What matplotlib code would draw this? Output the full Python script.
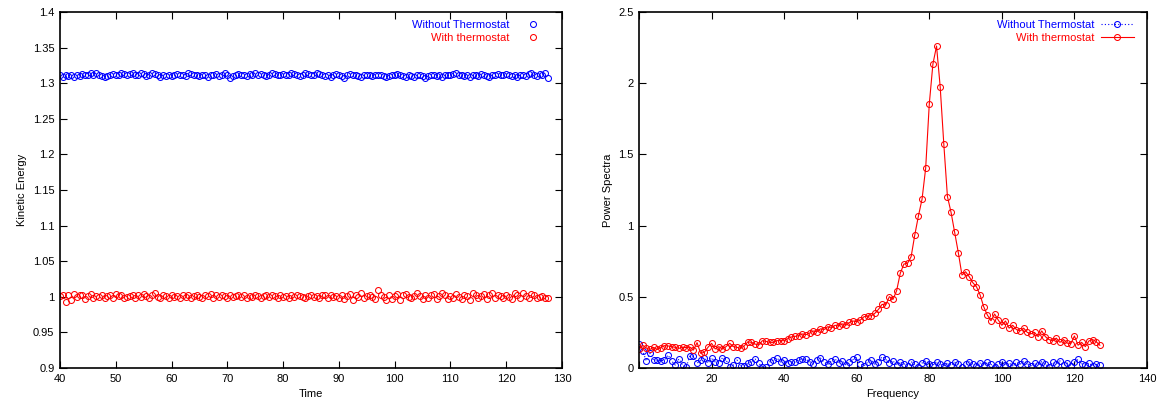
import numpy as np
import matplotlib.pyplot as plt
from matplotlib.ticker import FuncFormatter

plt.rcParams['font.family'] = ['Liberation Sans', 'DejaVu Sans']

# Kinetic energy, sampled every 0.5 time units from t = 40
time = np.arange(40, 128, 0.5)

ke_without = [
    1.311, 1.309, 1.311, 1.310, 1.312, 1.309, 1.311, 1.310, 1.313, 1.311, 1.312, 1.314, 1.311, 1.314, 1.312, 1.310,
    1.309, 1.310, 1.312, 1.313, 1.311, 1.312, 1.314, 1.313, 1.312, 1.313, 1.315, 1.312, 1.311, 1.314, 1.313, 1.310,
    1.312, 1.314, 1.313, 1.311, 1.309, 1.312, 1.310, 1.311, 1.310, 1.311, 1.313, 1.312, 1.311, 1.310, 1.315, 1.313,
    1.312, 1.311, 1.310, 1.312, 1.311, 1.309, 1.311, 1.312, 1.313, 1.310, 1.311, 1.314, 1.312, 1.308, 1.310, 1.312,
    1.313, 1.312, 1.311, 1.310, 1.313, 1.311, 1.314, 1.312, 1.313, 1.311, 1.310, 1.312, 1.314, 1.313, 1.312, 1.311,
    1.313, 1.312, 1.311, 1.314, 1.313, 1.311, 1.310, 1.312, 1.315, 1.313, 1.311, 1.312, 1.314, 1.313, 1.312, 1.310,
    1.311, 1.309, 1.312, 1.313, 1.311, 1.310, 1.308, 1.311, 1.313, 1.312, 1.311, 1.310, 1.309, 1.311, 1.312, 1.311,
    1.310, 1.311, 1.312, 1.311, 1.310, 1.309, 1.310, 1.311, 1.312, 1.313, 1.311, 1.310, 1.309, 1.311, 1.310, 1.309,
    1.311, 1.312, 1.310, 1.308, 1.310, 1.311, 1.312, 1.310, 1.311, 1.309, 1.312, 1.311, 1.312, 1.313, 1.314, 1.311,
    1.312, 1.310, 1.311, 1.309, 1.311, 1.312, 1.310, 1.313, 1.311, 1.310, 1.309, 1.311, 1.312, 1.313, 1.312, 1.311,
    1.313, 1.312, 1.310, 1.311, 1.309, 1.311, 1.312, 1.310, 1.313, 1.314, 1.312, 1.310, 1.313, 1.311, 1.314, 1.308,
]

ke_with = [
    1.001, 1.002, 0.992, 1.003, 0.995, 1.004, 1.000, 1.002, 1.003, 0.997, 1.001, 1.004, 0.999, 1.001, 1.000, 1.003,
    0.998, 1.001, 1.003, 0.999, 1.004, 1.001, 1.002, 0.998, 1.000, 1.001, 1.003, 0.999, 1.002, 1.000, 1.004, 1.001,
    0.999, 1.002, 1.005, 1.000, 0.998, 1.003, 1.001, 0.999, 1.002, 1.000, 1.001, 0.999, 1.003, 1.000, 1.002, 0.998,
    1.001, 1.003, 1.000, 0.999, 1.002, 1.001, 1.004, 0.999, 1.002, 1.000, 1.003, 1.001, 0.999, 1.002, 1.000, 1.001,
    1.003, 1.000, 1.002, 0.999, 1.001, 1.000, 1.002, 1.001, 0.999, 1.001, 1.003, 1.000, 1.002, 1.001, 0.999, 1.002,
    1.000, 1.001, 0.999, 1.002, 1.000, 1.003, 1.001, 1.000, 0.998, 1.001, 1.002, 1.000, 1.001, 0.999, 1.002, 1.003,
    0.998, 1.002, 1.000, 1.001, 0.999, 1.003, 0.997, 1.001, 1.004, 0.996, 1.002, 1.000, 1.005, 0.998, 1.001, 1.003,
    1.000, 0.997, 1.009, 1.003, 1.000, 0.996, 1.002, 0.997, 1.001, 1.004, 0.995, 1.002, 1.004, 1.000, 0.998, 1.001,
    1.005, 1.001, 0.997, 1.003, 0.999, 1.002, 1.004, 0.997, 1.001, 1.006, 1.003, 0.997, 1.001, 0.999, 1.004, 1.000,
    0.997, 1.003, 1.001, 0.996, 1.005, 1.002, 0.998, 1.001, 1.004, 0.997, 1.002, 1.006, 0.999, 1.003, 1.001, 0.998,
    1.003, 1.000, 0.997, 1.005, 1.002, 0.998, 1.006, 1.001, 0.999, 1.004, 1.002, 0.998, 1.000, 1.001, 0.999, 0.999,
]

# Power spectra at integer frequencies 0..127
freq = np.arange(0, 128)

ps_without = [
    0.168, 0.122, 0.049, 0.103, 0.056, 0.056, 0.049, 0.056, 0.091, 0.049, 0.021, 0.063, 0.021, 0.005, 0.084, 0.084,
    0.033, 0.056, 0.072, 0.033, 0.072, 0.042, 0.033, 0.072, 0.056, 0.009, 0.021, 0.056, 0.016, 0.016, 0.033, 0.042,
    0.063, 0.033, 0.009, 0.009, 0.042, 0.056, 0.072, 0.042, 0.056, 0.033, 0.042, 0.042, 0.056, 0.063, 0.060, 0.045,
    0.030, 0.055, 0.070, 0.040, 0.025, 0.050, 0.065, 0.035, 0.050, 0.020, 0.045, 0.060, 0.075, 0.030, 0.015, 0.040,
    0.055, 0.025, 0.045, 0.080, 0.060, 0.035, 0.050, 0.020, 0.040, 0.030, 0.015, 0.045, 0.025, 0.010, 0.035, 0.050,
    0.030, 0.020, 0.045, 0.025, 0.015, 0.035, 0.020, 0.040, 0.030, 0.010, 0.025, 0.045, 0.030, 0.015, 0.035, 0.020,
    0.040, 0.025, 0.010, 0.030, 0.045, 0.020, 0.035, 0.015, 0.040, 0.025, 0.050, 0.030, 0.015, 0.035, 0.020, 0.045,
    0.025, 0.010, 0.040, 0.030, 0.050, 0.020, 0.035, 0.015, 0.040, 0.060, 0.030, 0.020, 0.035, 0.015, 0.025, 0.020,
]

ps_with = [
    0.130, 0.160, 0.140, 0.130, 0.145, 0.130, 0.143, 0.157, 0.155, 0.150, 0.145, 0.138, 0.145, 0.143, 0.147, 0.126,
    0.178, 0.103, 0.110, 0.145, 0.173, 0.134, 0.150, 0.134, 0.150, 0.173, 0.150, 0.145, 0.138, 0.155, 0.184, 0.180,
    0.168, 0.161, 0.192, 0.187, 0.180, 0.180, 0.192, 0.192, 0.192, 0.206, 0.218, 0.222, 0.227, 0.239, 0.234, 0.245,
    0.260, 0.255, 0.275, 0.270, 0.290, 0.280, 0.300, 0.295, 0.310, 0.300, 0.320, 0.330, 0.325, 0.337, 0.360, 0.365,
    0.367, 0.384, 0.412, 0.447, 0.442, 0.501, 0.482, 0.543, 0.665, 0.730, 0.735, 0.782, 0.934, 1.067, 1.185, 1.402,
    1.854, 2.135, 2.261, 1.976, 1.573, 1.204, 1.093, 0.953, 0.810, 0.653, 0.676, 0.641, 0.599, 0.571, 0.513, 0.430,
    0.372, 0.332, 0.379, 0.337, 0.300, 0.330, 0.280, 0.300, 0.270, 0.260, 0.280, 0.250, 0.240, 0.250, 0.220, 0.260,
    0.220, 0.200, 0.190, 0.210, 0.180, 0.200, 0.175, 0.170, 0.225, 0.160, 0.180, 0.150, 0.190, 0.200, 0.185, 0.160,
]

BLUE = '#0000ff'
RED = '#ff0000'
FS = 8

fig = plt.figure(figsize=(11.57, 4.05), dpi=100)
ax1 = fig.add_axes([60 / 1157, 37 / 405, 502 / 1157, 356 / 405])
ax2 = fig.add_axes([639 / 1157, 37 / 405, 508 / 1157, 356 / 405])

mk = dict(marker='o', markersize=4.3, markerfacecolor='none', markeredgewidth=0.75)

# left: kinetic energy
ax1.plot(time, ke_without, linestyle='none', color=BLUE, label='Without Thermostat', **mk)
ax1.plot(time, ke_with, linestyle='none', color=RED, label='With thermostat', **mk)
ax1.set_xlim(40, 130)
ax1.set_ylim(0.9, 1.4)
ax1.set_xticks(np.arange(40, 131, 10))
ax1.set_yticks(np.arange(0.9, 1.401, 0.05))
ax1.yaxis.set_major_formatter(FuncFormatter(lambda v, p: '%g' % round(v, 2)))
ax1.set_xlabel('Time', fontsize=FS)
ax1.set_ylabel('Kinetic Energy', fontsize=FS)

# right: power spectra
ax2.plot(freq, ps_without, linestyle=(0, (1, 2)), linewidth=0.8, color=BLUE, label='Without Thermostat', **mk)
ax2.plot(freq, ps_with, linestyle='-', linewidth=0.8, color=RED, label='With thermostat', **mk)
ax2.set_xlim(0, 140)
ax2.set_ylim(0, 2.5)
ax2.set_xticks(np.arange(0, 141, 20))
ax2.xaxis.set_major_formatter(FuncFormatter(lambda v, p: '' if v == 0 else '%g' % v))
ax2.set_yticks(np.arange(0, 2.51, 0.5))
ax2.yaxis.set_major_formatter(FuncFormatter(lambda v, p: '%g' % round(v, 2)))
ax2.set_xlabel('Frequency', fontsize=FS)
ax2.set_ylabel('Power Spectra', fontsize=FS)

for ax in (ax1, ax2):
    ax.tick_params(direction='in', length=5, width=0.8, top=True, right=True, labelsize=FS, pad=4)
    for s in ax.spines.values():
        s.set_linewidth(1.2)
    ax.legend(loc='upper right', frameon=False, markerfirst=False, labelcolor='linecolor',
              fontsize=FS, handlelength=3, handletextpad=0.6, labelspacing=0.25,
              borderaxespad=0.3, bbox_to_anchor=(0.99, 1.0))

fig.savefig('out.png', dpi=100)
